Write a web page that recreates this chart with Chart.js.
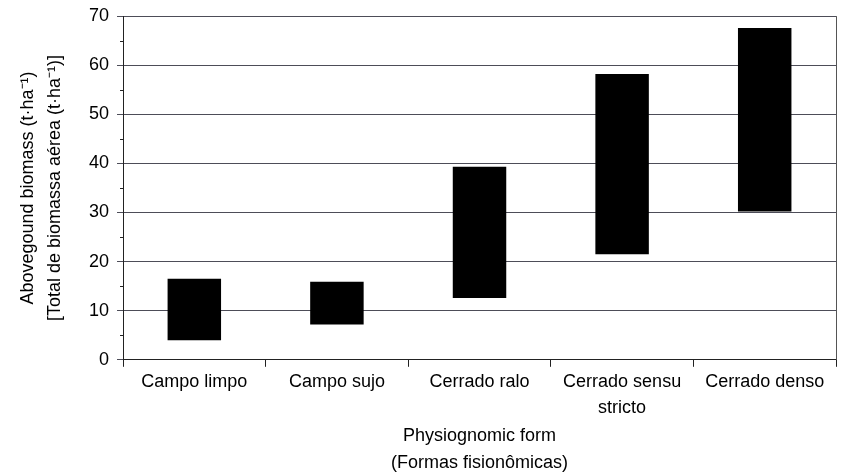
<!DOCTYPE html>
<html>
<head>
<meta charset="utf-8">
<script src="https://cdn.jsdelivr.net/npm/chart.js@4.4.1/dist/chart.umd.min.js"></script>
<style>
  html, body { margin: 0; padding: 0; background: #fff; }
  #wrap { width: 846px; height: 473px; }
</style>
</head>
<body>
<div id="wrap"><canvas id="biomassChart" width="846" height="473"></canvas></div>
<script>
var categories = ['Campo limpo', 'Campo sujo', 'Cerrado ralo', ['Cerrado sensu', 'stricto'], 'Cerrado denso'];
var lowValues = [4.0, 7.2, 12.6, 21.5, 30.2];
var highValues = [16.5, 15.9, 39.3, 58.2, 67.6];
var yTicks = [0, 10, 20, 30, 40, 50, 60, 70];
var minorTicks = [5, 15, 25, 35, 45, 55, 65];

var ranges = lowValues.map(function (lo, i) { return [lo, highValues[i]]; });

// minor ticks on the y axis and the right border of the plot box
var framePlugin = {
    id: 'frame',
    afterDraw: function (chart) {
        var ctx = chart.ctx;
        var area = chart.chartArea;
        var y = chart.scales.y;
        ctx.save();
        ctx.strokeStyle = '#222';
        ctx.lineWidth = 1;
        ctx.beginPath();
        minorTicks.forEach(function (v) {
            var py = Math.round(y.getPixelForValue(v)) + 0.5;
            ctx.moveTo(area.left - 3, py);
            ctx.lineTo(area.left, py);
        });
        ctx.stroke();
        ctx.strokeStyle = '#555';
        ctx.beginPath();
        ctx.moveTo(Math.round(area.right) + 0.5, area.top);
        ctx.lineTo(Math.round(area.right) + 0.5, area.bottom);
        ctx.stroke();
        ctx.restore();
    }
};

var ctx = document.getElementById('biomassChart').getContext('2d');
new Chart(ctx, {
    type: 'bar',
    data: {
        labels: categories,
        datasets: [{
            data: ranges,
            backgroundColor: '#000',
            borderWidth: 0,
            categoryPercentage: 1.0,
            barPercentage: 0.375
        }]
    },
    options: {
        responsive: false,
        animation: false,
        layout: { padding: { top: 0, right: 10, left: 6, bottom: -4 } },
        plugins: {
            legend: { display: false },
            tooltip: { enabled: false }
        },
        scales: {
            x: {
                offset: true,
                grid: { drawOnChartArea: false, drawTicks: true, tickLength: 7, color: '#222', offset: true },
                border: { color: '#222' },
                ticks: { color: '#000', font: { family: 'Liberation Sans', size: 18, lineHeight: 1.45 }, maxRotation: 0, autoSkip: false, padding: 2 },
                title: {
                    display: true,
                    text: ['Physiognomic form', '(Formas fisionômicas)'],
                    color: '#000',
                    font: { family: 'Liberation Sans', size: 18, lineHeight: 1.5 },
                    padding: { top: 0, bottom: 0 }
                }
            },
            y: {
                min: 0,
                max: 70,
                afterBuildTicks: function (axis) {
                    axis.ticks = yTicks.map(function (v) { return { value: v }; });
                },
                grid: { color: '#4d4d58', lineWidth: 1, tickLength: 6, drawTicks: true },
                border: { color: '#222' },
                ticks: { color: '#000', font: { family: 'Liberation Sans', size: 18, lineHeight: 0.9 }, padding: 8 },
                title: {
                    display: true,
                    text: ['Abovegound biomass (t·ha⁻¹)', '[Total de biomassa aérea (t·ha⁻¹)]'],
                    color: '#000',
                    font: { family: 'Liberation Sans', size: 18, lineHeight: 1.5 },
                    padding: { top: 9, bottom: 12 }
                }
            }
        }
    },
    plugins: [framePlugin]
});
</script>
</body>
</html>
